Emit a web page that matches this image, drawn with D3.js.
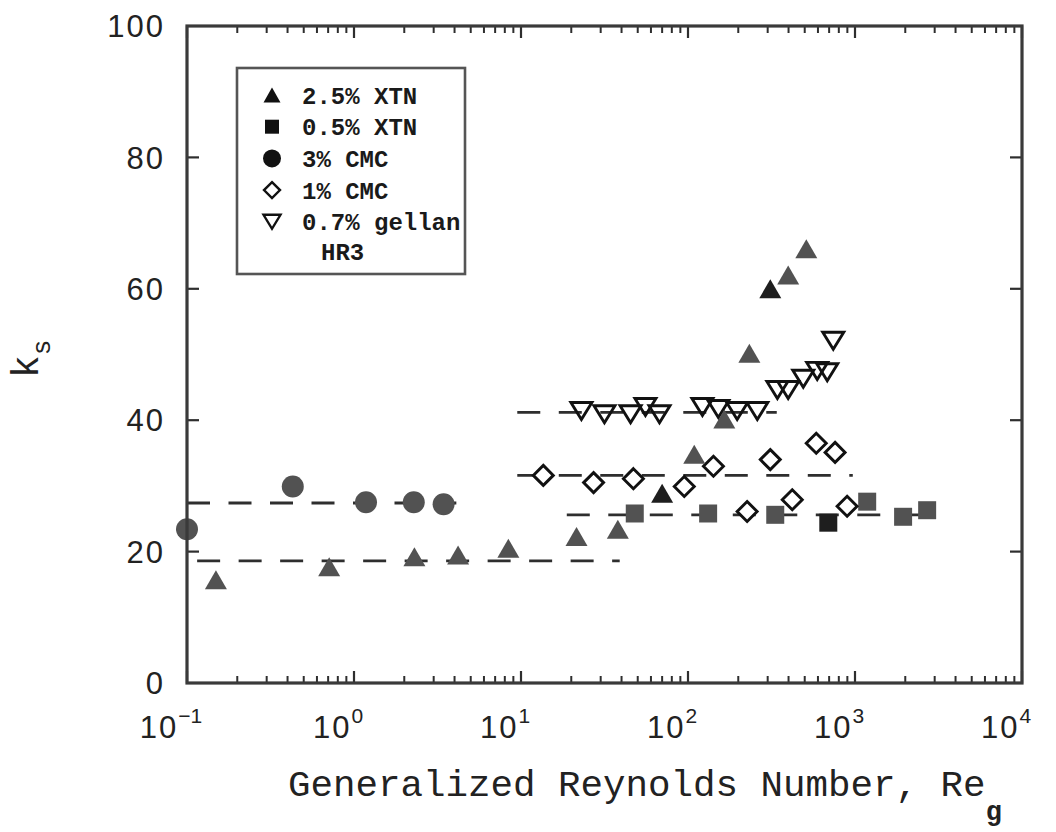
<!DOCTYPE html>
<html>
<head>
<meta charset="utf-8">
<script src="https://cdn.jsdelivr.net/npm/d3@7"></script>
<style>
  html, body { margin: 0; padding: 0; background: #fff; }
  svg { display: block; }
</style>
</head>
<body>
<svg id="chart" width="1056" height="832"></svg>
<script>
// ---- data -------------------------------------------------------------
// 2.5% xanthan gum (filled triangles)
const xtn25Re = [0.149, 0.71, 2.3, 4.2, 8.4, 21.5, 38, 70, 109, 165, 233, 311, 398, 511];
const xtn25Ks = [15.7, 17.7, 19.2, 19.5, 20.5, 22.3, 23.4, 28.9, 34.8, 40.2, 50.2, 60.0, 62.1, 66.1];
// 0.5% xanthan gum (filled squares)
const xtn05Re = [48, 132, 333, 692, 1183, 1941, 2704];
const xtn05Ks = [25.8, 25.8, 25.6, 24.4, 27.6, 25.3, 26.3];
// 3% CMC (filled circles)
const cmc3Re = [0.1, 0.43, 1.18, 2.28, 3.44];
const cmc3Ks = [23.4, 29.9, 27.5, 27.5, 27.2];
// 1% CMC (open diamonds)
const cmc1Re = [13.6, 27.2, 47.1, 95, 142, 226, 311, 421, 586, 760, 897];
const cmc1Ks = [31.6, 30.5, 31.1, 29.9, 33.0, 26.1, 34.0, 27.9, 36.5, 35.1, 26.9];
// 0.7% gellan HR3 (open inverted triangles)
const gellanRe = [23, 31.6, 45.3, 55.6, 67.5, 122, 152, 197, 260, 343, 398, 490, 594, 682, 741];
const gellanKs = [41.4, 40.9, 40.9, 42.0, 40.9, 42.0, 41.7, 41.4, 41.4, 44.6, 44.6, 46.3, 47.5, 47.3, 52.1];

// mean ks levels (dashed lines) and the Re range each one covers
const fitNames = ["2.5% XTN", "3% CMC", "0.5% XTN", "1% CMC", "0.7% gellan"];
const fitKs    = [18.6, 27.4, 25.6, 31.6, 41.2];
const fitFrom  = [0.115, 0.1, 18.8, 9.5, 9.5];
const fitTo    = [39, 4.1, 2800, 970, 340];

// legend entries
const legendLabels = ["2.5% XTN", "0.5% XTN", "3% CMC", "1% CMC", "0.7% gellan"];

// axis ticks
const xMajorTicks = [0.1, 1, 10, 100, 1000, 10000];
const xTickExponents = ["\u22121", "0", "1", "2", "3", "4"];
const yTicks = [0, 20, 40, 60, 80, 100];

// ---- layout -----------------------------------------------------------
const svg = d3.select("#chart");
const plot = { left: 187, right: 1022, top: 26, bottom: 683 };
const ink = "#2e2e2e";
const fillGray = "#525252";
const fillDark = "#1e1e1e";

const x = d3.scaleLog().domain([0.1, 10000]).range([plot.left, plot.right]);
const y = d3.scaleLinear().domain([0, 100]).range([plot.bottom, plot.top]);

// ---- marker shapes ----------------------------------------------------
function triUp(w, h) { return `M0,${-h/2}L${w/2},${h/2}L${-w/2},${h/2}Z`; }
function triDown(w, h) { return `M${-w/2},${-h/2}L${w/2},${-h/2}L0,${h/2}Z`; }
function diamond(w, h) { return `M0,${-h/2}L${w/2},0L0,${h/2}L${-w/2},0Z`; }
function square(s) { return `M${-s/2},${-s/2}h${s}v${s}h${-s}Z`; }

// ---- dashed mean lines -----------------------------------------------
const gLines = svg.append("g");
fitKs.forEach((k, i) => {
  gLines.append("line")
    .attr("x1", x(fitFrom[i])).attr("x2", x(fitTo[i]))
    .attr("y1", y(k)).attr("y2", y(k))
    .attr("stroke", ink).attr("stroke-width", 2.8)
    .attr("stroke-dasharray", "23,18.5");
});

// ---- points -------------------------------------------------------------
const gPts = svg.append("g");
const darkTriangles = new Set([7, 11]);
const darkSquares = new Set([3]);

function pts(re, ks) { return re.map((r, i) => ({ r, k: ks[i], i })); }

gPts.selectAll(".xtn05").data(pts(xtn05Re, xtn05Ks)).join("path")
  .attr("d", square(18))
  .attr("transform", d => `translate(${x(d.r)},${y(d.k)})`)
  .attr("fill", d => darkSquares.has(d.i) ? fillDark : fillGray);

gPts.selectAll(".cmc3").data(pts(cmc3Re, cmc3Ks)).join("circle")
  .attr("cx", d => x(d.r)).attr("cy", d => y(d.k)).attr("r", 11)
  .attr("fill", fillGray);

gPts.selectAll(".cmc1").data(pts(cmc1Re, cmc1Ks)).join("path")
  .attr("d", diamond(20, 20))
  .attr("transform", d => `translate(${x(d.r)},${y(d.k)})`)
  .attr("fill", "#fff").attr("stroke", "#111").attr("stroke-width", 2.9)
  .attr("stroke-linejoin", "miter");

gPts.selectAll(".gellan").data(pts(gellanRe, gellanKs)).join("path")
  .attr("d", triDown(21, 17))
  .attr("transform", d => `translate(${x(d.r)},${y(d.k)})`)
  .attr("fill", "none").attr("stroke", "#111").attr("stroke-width", 2.9)
  .attr("stroke-linejoin", "miter");

gPts.selectAll(".xtn25").data(pts(xtn25Re, xtn25Ks)).join("path")
  .attr("d", triUp(22, 19))
  .attr("transform", d => `translate(${x(d.r)},${y(d.k)})`)
  .attr("fill", d => darkTriangles.has(d.i) ? fillDark : fillGray);

// ---- frame and ticks -------------------------------------------------
const gAxes = svg.append("g");

// minor and major ticks along bottom and top, pointing inward
const xMinor = [];
for (let e = -1; e < 4; e++) for (let m = 2; m <= 9; m++) xMinor.push(m * Math.pow(10, e));

function xTicksAt(yPos, dir) {
  const g = gAxes.append("g");
  g.selectAll(".mn").data(xMinor).join("line")
    .attr("x1", d => x(d)).attr("x2", d => x(d))
    .attr("y1", yPos).attr("y2", yPos + dir * 7)
    .attr("stroke", ink).attr("stroke-width", 2);
  g.selectAll(".mj").data(xMajorTicks).join("line")
    .attr("x1", d => x(d)).attr("x2", d => x(d))
    .attr("y1", yPos).attr("y2", yPos + dir * 12)
    .attr("stroke", ink).attr("stroke-width", 2.2);
}
xTicksAt(plot.bottom, -1);
xTicksAt(plot.top, 1);

function yTicksAt(xPos, dir) {
  gAxes.append("g").selectAll("line").data(yTicks.slice(1, -1)).join("line")
    .attr("x1", xPos).attr("x2", xPos + dir * 12)
    .attr("y1", d => y(d)).attr("y2", d => y(d))
    .attr("stroke", ink).attr("stroke-width", 2.2);
}
yTicksAt(plot.left, 1);
yTicksAt(plot.right, -1);

gAxes.append("rect")
  .attr("x", plot.left).attr("y", plot.top)
  .attr("width", plot.right - plot.left).attr("height", plot.bottom - plot.top)
  .attr("fill", "none").attr("stroke", "#3a3a3a").attr("stroke-width", 3.2);

// ---- tick labels -------------------------------------------------------
const tickFont = "'Liberation Sans', Arial, sans-serif";
svg.append("g").selectAll("text").data(yTicks).join("text")
  .attr("x", 165).attr("y", d => y(d)).attr("dy", "0.36em")
  .attr("text-anchor", "end")
  .attr("font-family", tickFont).attr("font-size", 31).attr("letter-spacing", 2)
  .attr("fill", "#222")
  .text(d => d);

const xl = svg.append("g").selectAll("text").data(xMajorTicks).join("text")
  .attr("x", d => x(d) - 16).attr("y", 738)
  .attr("text-anchor", "middle")
  .attr("font-family", tickFont).attr("font-size", 31).attr("letter-spacing", 2)
  .attr("fill", "#222");
xl.append("tspan").text("10");
xl.append("tspan").attr("dy", -15).attr("font-size", 21).attr("letter-spacing", 0)
  .text((d, i) => xTickExponents[i]);

// ---- axis titles --------------------------------------------------------
const titleFont = "'Liberation Mono', 'Courier New', monospace";
const xt = svg.append("text")
  .attr("x", 288).attr("y", 796)
  .attr("font-family", titleFont).attr("font-size", 37.5)
  .attr("fill", "#222");
xt.append("tspan").text("Generalized Reynolds Number, Re");
xt.append("tspan").attr("dy", 24).attr("font-size", 27).attr("font-weight", "bold").text("g");

const yt = svg.append("text")
  .attr("transform", "translate(38,378) rotate(-90)")
  .attr("font-family", titleFont).attr("font-size", 38)
  .attr("fill", "#222");
yt.append("tspan").text("k");
yt.append("tspan").attr("dy", 12).attr("font-size", 26).text("s");

// ---- legend ------------------------------------------------------------
const leg = svg.append("g");
const legBox = { x: 237, y: 68, w: 228, h: 206 };
leg.append("rect")
  .attr("x", legBox.x).attr("y", legBox.y).attr("width", legBox.w).attr("height", legBox.h)
  .attr("fill", "#fff").attr("stroke", "#555").attr("stroke-width", 2.6);

const rowY = i => 95 + i * 31.7;
const legendShapes = [
  g => g.append("path").attr("d", triUp(17, 15)).attr("fill", "#111"),
  g => g.append("path").attr("d", square(14)).attr("fill", "#111"),
  g => g.append("circle").attr("r", 9).attr("fill", "#111"),
  g => g.append("path").attr("d", diamond(16, 16)).attr("fill", "#fff").attr("stroke", "#111").attr("stroke-width", 2.4),
  g => g.append("path").attr("d", triDown(17, 14)).attr("fill", "none").attr("stroke", "#111").attr("stroke-width", 2.4)
];
legendLabels.forEach((lab, i) => {
  const g = leg.append("g").attr("transform", `translate(272,${rowY(i)})`);
  legendShapes[i](g);
  leg.append("text")
    .attr("x", 302).attr("y", rowY(i)).attr("dy", "0.36em")
    .attr("font-family", titleFont).attr("font-weight", "bold").attr("font-size", 24)
    .attr("fill", "#1a1a1a")
    .text(lab);
});
leg.append("text")
  .attr("x", 321).attr("y", rowY(5) - 2).attr("dy", "0.36em")
  .attr("font-family", titleFont).attr("font-weight", "bold").attr("font-size", 24)
  .attr("fill", "#1a1a1a")
  .text("HR3");
</script>
</body>
</html>
